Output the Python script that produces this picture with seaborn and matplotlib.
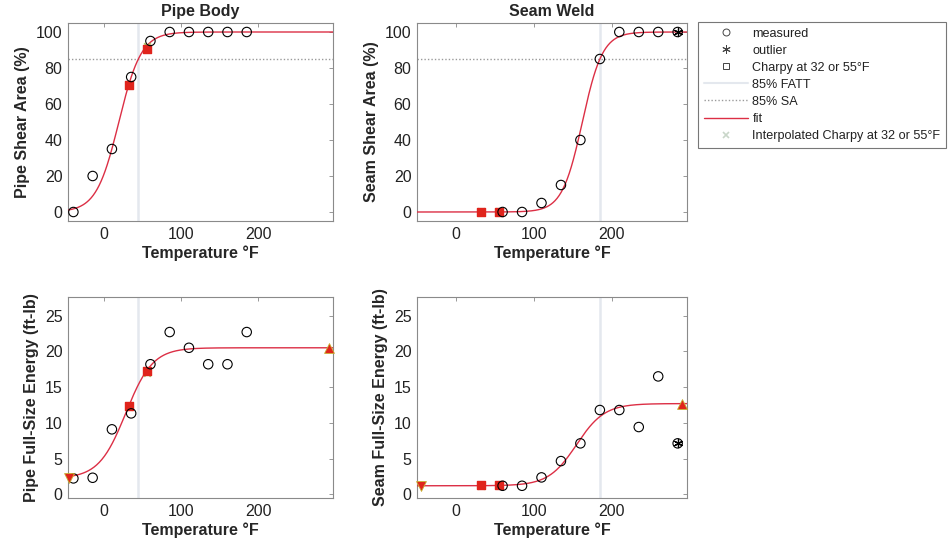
import numpy as np
import pandas as pd
import matplotlib
matplotlib.use("Agg")
import matplotlib.pyplot as plt
from matplotlib.lines import Line2D
import seaborn as sns

# ---- measured Charpy data -------------------------------------------------
pipe_temp = [-40, -15, 10, 35, 60, 85, 110, 135, 160, 185]
pipe_shear = [0, 20, 35, 75, 95, 100, 100, 100, 100, 100]
pipe_energy = [2.24, 2.33, 9.1, 11.33, 18.2, 22.7, 20.5, 18.2, 18.2, 22.7]

seam_temp = [60, 85, 110, 135, 160, 185, 210, 235, 260, 285]
seam_shear = [0, 0, 5, 15, 40, 85, 100, 100, 100, 100]
seam_energy = [1.21, 1.21, 2.38, 4.66, 7.14, 11.8, 11.8, 9.42, 16.5, 7.14]
seam_outlier = [False] * 9 + [True]

# Charpy values at 32 and 55 F
charpy_temp = [32, 55]
pipe_shear_charpy = [70.5, 90.5]
seam_shear_charpy = [0.0, 0.0]
pipe_energy_charpy = [12.36, 17.26]
seam_energy_charpy = [1.26, 1.30]

# interpolated Charpy values at 32 and 55 F
pipe_shear_interp = [71.0, 92.0]
seam_shear_interp = [0.3, 0.4]
pipe_energy_interp = [12.2, 17.0]
seam_energy_interp = [1.22, 1.25]

# shelf markers (lower / upper shelf energy)
pipe_shelf_temp = [-46, 292]
seam_shelf_temp = [-45, 290]
pipe_shelf_energy = [2.24, 20.5]
seam_shelf_energy = [1.21, 12.7]

# tanh fit parameters: lower shelf, upper shelf, mid temperature, width
pipe_shear_fit = (0.0, 100.0, 19.0, 29.2)
seam_shear_fit = (0.0, 100.0, 162.5, 26.0)
pipe_energy_fit = (2.24, 20.5, 28.0, 35.0)
seam_energy_fit = (1.21, 12.7, 155.0, 36.0)

# 85% FATT temperatures
pipe_fatt = 44.3
seam_fatt = 185.0
sa85 = 85

PIPE_XLIM = (-47, 297)
SEAM_XLIM = (-50, 297)

sns.set_style("white")
plt.rcParams["font.family"] = ["Liberation Sans", "DejaVu Sans"]

RED = "#dc2f45"
SQ_RED = "#e0241c"
GREEN = "#a6c85a"
FATT_C = "#e4e8ee"
SA_C = "#9a9a9a"


def fit_curve(params, t):
    lo, hi, t0, c = params
    return (hi + lo) / 2 + (hi - lo) / 2 * np.tanh((t - t0) / c)


def style_axes(ax, xlim, ylim, yticks):
    ax.set_xlim(*xlim)
    ax.set_ylim(*ylim)
    ax.set_xticks([0, 100, 200])
    ax.set_yticks(yticks)
    ax.tick_params(direction="in", length=3, width=0.6, color="#888888",
                   labelsize=11.5, labelcolor="#222222", top=True, right=True,
                   pad=4)
    for s in ax.spines.values():
        s.set_color("#8a8a8a")
        s.set_linewidth(0.8)
    ax.set_xlabel("Temperature °F", fontsize=11.5, fontweight="bold", labelpad=3)


def draw_panel(ax, xlim, temp, vals, outlier, ch_vals, interp_vals, params,
               fatt, shear=True, shelf_temp=None, shelf_vals=None):
    tt = np.linspace(xlim[0], xlim[1], 400)
    fit_df = pd.DataFrame({"T": tt, "y": fit_curve(params, tt)})
    ax.axvline(fatt, color=FATT_C, lw=1.8, zorder=1)
    if shear:
        ax.axhline(sa85, color=SA_C, lw=1.0, ls=(0, (1, 1.5)), zorder=1)
    sns.lineplot(data=fit_df, x="T", y="y", ax=ax, color=RED, lw=1.0,
                 zorder=3, legend=False)
    ax.scatter(charpy_temp, interp_vals, marker="x", s=22, color=GREEN,
               linewidths=1.2, zorder=4)
    ax.scatter(charpy_temp, ch_vals, marker="s", s=32, color=SQ_RED,
               edgecolors=SQ_RED, zorder=5)
    df = pd.DataFrame({"T": temp, "v": vals})
    sns.scatterplot(data=df, x="T", y="v", ax=ax, marker="o", s=46,
                    facecolor="none", edgecolor="black", linewidth=0.8,
                    zorder=6, legend=False)
    ot = [t for t, o in zip(temp, outlier) if o]
    ov = [v for v, o in zip(vals, outlier) if o]
    if ot:
        ax.scatter(ot, ov, marker=(6, 2, 0), s=34, color="black",
                   linewidths=0.9, zorder=7)
    if shelf_vals is not None:
        ax.scatter(shelf_temp[:1], shelf_vals[:1], marker="v", s=50,
                   color=SQ_RED, edgecolors="#c8b030", linewidths=0.6,
                   zorder=8, clip_on=False)
        ax.scatter(shelf_temp[1:], shelf_vals[1:], marker="^", s=50,
                   color=SQ_RED, edgecolors="#c8b030", linewidths=0.6,
                   zorder=8, clip_on=False)


fig = plt.figure(figsize=(9.5, 5.41), dpi=100)
W, H = 950, 541


def add_ax(l, r, t, b):
    return fig.add_axes([l / W, 1 - b / H, (r - l) / W, (b - t) / H])


ax1 = add_ax(68, 333, 23, 221)
ax2 = add_ax(417, 687, 23, 221)
ax3 = add_ax(68, 333, 297, 498)
ax4 = add_ax(417, 687, 297, 498)

draw_panel(ax1, PIPE_XLIM, pipe_temp, pipe_shear, [False] * 10,
           pipe_shear_charpy, pipe_shear_interp, pipe_shear_fit, pipe_fatt)
style_axes(ax1, PIPE_XLIM, (-5, 105), [0, 20, 40, 60, 80, 100])
ax1.set_ylabel("Pipe Shear Area (%)", fontsize=11.5, fontweight="bold", labelpad=4)
ax1.set_title("Pipe Body", fontsize=11.5, fontweight="bold", pad=5)

draw_panel(ax2, SEAM_XLIM, seam_temp, seam_shear, seam_outlier,
           seam_shear_charpy, seam_shear_interp, seam_shear_fit, seam_fatt)
style_axes(ax2, SEAM_XLIM, (-5, 105), [0, 20, 40, 60, 80, 100])
ax2.set_ylabel("Seam Shear Area (%)", fontsize=11.5, fontweight="bold", labelpad=4)
ax2.set_title("Seam Weld", fontsize=11.5, fontweight="bold", pad=5)

draw_panel(ax3, PIPE_XLIM, pipe_temp, pipe_energy, [False] * 10,
           pipe_energy_charpy, pipe_energy_interp, pipe_energy_fit, pipe_fatt,
           shear=False, shelf_temp=pipe_shelf_temp, shelf_vals=pipe_shelf_energy)
style_axes(ax3, PIPE_XLIM, (-0.5, 27.6), [0, 5, 10, 15, 20, 25])
ax3.set_ylabel("Pipe Full-Size Energy (ft-lb)", fontsize=11.5,
               fontweight="bold", labelpad=4)

draw_panel(ax4, SEAM_XLIM, seam_temp, seam_energy, seam_outlier,
           seam_energy_charpy, seam_energy_interp, seam_energy_fit, seam_fatt,
           shear=False, shelf_temp=seam_shelf_temp, shelf_vals=seam_shelf_energy)
style_axes(ax4, SEAM_XLIM, (-0.5, 27.6), [0, 5, 10, 15, 20, 25])
ax4.set_ylabel("Seam Full-Size Energy (ft-lb)", fontsize=11.5,
               fontweight="bold", labelpad=4)

handles = [
    Line2D([], [], ls="none", marker="o", mfc="none", mec="#444444", ms=5, mew=0.7),
    Line2D([], [], ls="none", marker=(6, 2, 0), color="#444444", ms=6, mew=0.7),
    Line2D([], [], ls="none", marker="s", mfc="none", mec="#444444", ms=4.5, mew=0.7),
    Line2D([], [], color=FATT_C, lw=1.5),
    Line2D([], [], color=SA_C, lw=1.0, ls=(0, (1, 1.5))),
    Line2D([], [], color=RED, lw=1.0),
    Line2D([], [], ls="none", marker="x", color="#c9d6c9", ms=5, mew=1.2),
]
labels = ["measured", "outlier", "Charpy at 32 or 55°F", "85% FATT", "85% SA",
          "fit", "Interpolated Charpy at 32 or 55°F"]
leg = fig.legend(handles, labels, loc="upper left",
                 bbox_to_anchor=(698 / W, 1 - 22 / H), frameon=True,
                 fancybox=False, edgecolor="#555555", fontsize=9.1,
                 handlelength=3.5, handletextpad=0.35, labelspacing=0.4,
                 borderpad=0.45, borderaxespad=0)
leg.get_frame().set_linewidth(0.8)
for t in leg.get_texts():
    t.set_color("#222222")

fig.savefig("out.png", dpi=100)
